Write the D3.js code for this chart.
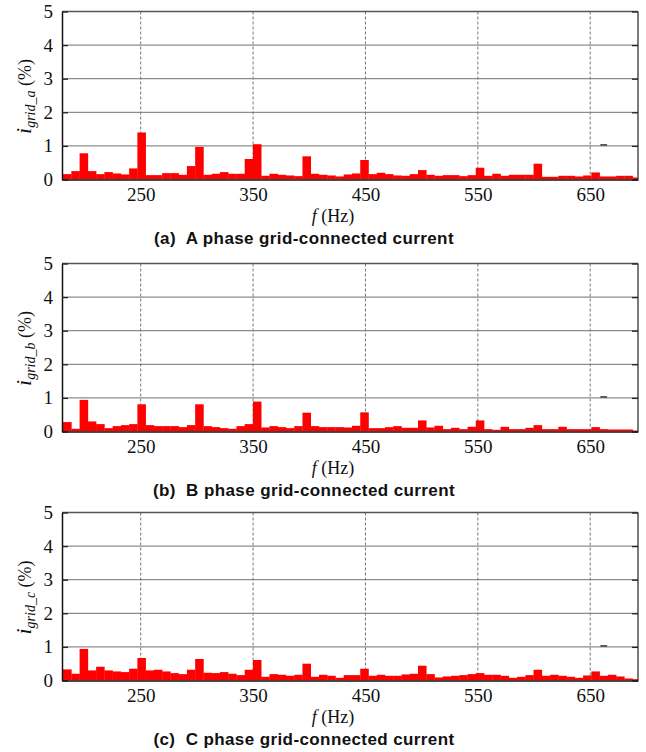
<!DOCTYPE html>
<html>
<head>
<meta charset="utf-8">
<style>
body { margin: 0; background: #fff; }
svg text { font-family: "Liberation Serif", serif; }
svg text.caption { font-family: "Liberation Sans", sans-serif; font-weight: bold; white-space: pre; }
</style>
</head>
<body>
<div id="chart"></div>
<script src="https://cdn.jsdelivr.net/npm/d3@7/dist/d3.min.js"></script>
<script>
// harmonic spectrum, % of fundamental, one bar per FFT bin
var phaseA = [0.16, 0.16, 0.25, 0.78, 0.25, 0.16, 0.22, 0.18, 0.15, 0.33,
              1.40, 0.13, 0.13, 0.19, 0.19, 0.14, 0.40, 0.97, 0.14, 0.17,
              0.22, 0.17, 0.17, 0.61, 1.05, 0.11, 0.17, 0.14, 0.12, 0.10,
              0.69, 0.17, 0.14, 0.12, 0.09, 0.15, 0.18, 0.58, 0.16, 0.20,
              0.16, 0.12, 0.11, 0.16, 0.28, 0.14, 0.11, 0.13, 0.13, 0.10,
              0.13, 0.35, 0.11, 0.17, 0.11, 0.14, 0.14, 0.14, 0.47, 0.08,
              0.08, 0.11, 0.11, 0.09, 0.12, 0.21, 0.09, 0.09, 0.11, 0.11, 0.06];
var phaseB = [0.28, 0.28, 0.08, 0.94, 0.30, 0.22, 0.10, 0.16, 0.19, 0.22,
              0.81, 0.19, 0.16, 0.16, 0.16, 0.13, 0.19, 0.81, 0.16, 0.13,
              0.10, 0.08, 0.16, 0.22, 0.89, 0.12, 0.16, 0.13, 0.10, 0.16,
              0.56, 0.16, 0.13, 0.13, 0.13, 0.12, 0.17, 0.57, 0.10, 0.10,
              0.13, 0.16, 0.11, 0.11, 0.33, 0.12, 0.17, 0.07, 0.11, 0.07,
              0.14, 0.33, 0.07, 0.05, 0.14, 0.07, 0.07, 0.11, 0.19, 0.07,
              0.07, 0.14, 0.07, 0.07, 0.07, 0.13, 0.07, 0.06, 0.06, 0.06, 0.03];
var phaseC = [0.33, 0.33, 0.20, 0.94, 0.30, 0.41, 0.30, 0.27, 0.25, 0.35,
              0.67, 0.30, 0.32, 0.27, 0.22, 0.19, 0.32, 0.64, 0.23, 0.22,
              0.25, 0.20, 0.16, 0.32, 0.61, 0.11, 0.19, 0.17, 0.14, 0.17,
              0.50, 0.11, 0.17, 0.14, 0.08, 0.16, 0.16, 0.35, 0.14, 0.17,
              0.14, 0.14, 0.18, 0.20, 0.44, 0.19, 0.09, 0.12, 0.14, 0.16,
              0.19, 0.22, 0.17, 0.17, 0.14, 0.08, 0.11, 0.16, 0.32, 0.14,
              0.17, 0.14, 0.11, 0.08, 0.15, 0.27, 0.14, 0.17, 0.12, 0.06, 0.04];

var binStart = 177.3,   // Hz, centre of first bin
    binHz = 7.344;      // Hz per bin
var xTicks = [250, 350, 450, 550, 650];
var yTicks = [0, 1, 2, 3, 4, 5];
var gridY = [1, 2, 3, 4];

var panels = [
  {values: phaseA, sub: "grid_a", caption: "(a)  A phase grid-connected current"},
  {values: phaseB, sub: "grid_b", caption: "(b)  B phase grid-connected current"},
  {values: phaseC, sub: "grid_c", caption: "(c)  C phase grid-connected current"}
];

var w = 646,
    h = 752,
    offsets = [0, 252, 501],
    serif = "'Liberation Serif', serif";

var svg = d3.select("#chart")
    .append("svg")
    .attr("width", w)
    .attr("height", h);

var x = d3.scaleLinear().domain([180, 692.5]).range([62, 638]);
var y = d3.scaleLinear().domain([0, 5]).range([179.5, 11.5]);

svg.append("clipPath")
    .attr("id", "plotclip")
  .append("rect")
    .attr("x", x.range()[0])
    .attr("y", y.range()[1])
    .attr("width", x.range()[1] - x.range()[0])
    .attr("height", y.range()[0] - y.range()[1]);

panels.forEach(function(p, pi) {
  var g = svg.append("g").attr("transform", "translate(0," + offsets[pi] + ")");

  // grid
  g.selectAll(".hgrid")
      .data(gridY)
    .enter().append("line")
      .attr("x1", x.range()[0]).attr("x2", x.range()[1])
      .attr("y1", y).attr("y2", y)
      .attr("stroke", "#8c8c8c")
      .attr("stroke-width", 1.3);

  g.selectAll(".vgrid")
      .data(xTicks)
    .enter().append("line")
      .attr("x1", x).attr("x2", x)
      .attr("y1", y(0)).attr("y2", y(5))
      .attr("stroke", "#777")
      .attr("stroke-width", 1)
      .attr("stroke-dasharray", "3,2");

  // bars
  g.append("g")
      .attr("clip-path", "url(#plotclip)")
    .selectAll("rect")
      .data(p.values)
    .enter().append("rect")
      .attr("x", function(d, i) { return x(binStart + (i - 0.5) * binHz); })
      .attr("width", function(d, i) { return x(binStart + (i + 0.5) * binHz) - x(binStart + (i - 0.5) * binHz) + 0.3; })
      .attr("y", function(d) { return y(d); })
      .attr("height", function(d) { return y(0) - y(d); })
      .attr("fill", "#ff0000");

  // small stray mark left from legend
  g.append("line")
      .attr("x1", x(659)).attr("x2", x(665))
      .attr("y1", y(1.03)).attr("y2", y(1.03))
      .attr("stroke", "#222")
      .attr("stroke-width", 1.3);

  // frame
  g.append("line")
      .attr("x1", x.range()[0]).attr("x2", x.range()[1])
      .attr("y1", y(5)).attr("y2", y(5))
      .attr("stroke", "#555").attr("stroke-width", 1.3);
  g.append("line")
      .attr("x1", x.range()[1]).attr("x2", x.range()[1])
      .attr("y1", y(5)).attr("y2", y(0))
      .attr("stroke", "#333").attr("stroke-width", 1.3);

  // right axis inner ticks
  g.append("g")
      .attr("transform", "translate(" + x.range()[1] + ",0)")
      .call(d3.axisRight(y).tickValues(yTicks).tickSize(-6).tickFormat(""))
      .call(function(a) {
        a.select(".domain").remove();
        a.selectAll("line").attr("stroke", "#222").attr("stroke-width", 1.3);
      });

  // left axis
  g.append("g")
      .attr("transform", "translate(" + x.range()[0] + ",0)")
      .call(d3.axisLeft(y).tickValues(yTicks).tickFormat(d3.format("d"))
              .tickSize(-6).tickPadding(9).tickSizeOuter(0))
      .call(function(a) {
        a.attr("font-family", serif).attr("font-size", 19);
        a.select(".domain").attr("stroke", "#111").attr("stroke-width", 1.5);
        a.selectAll("line").attr("stroke", "#222").attr("stroke-width", 1.3);
        a.selectAll("text").attr("fill", "#111");
      });

  // bottom axis
  g.append("g")
      .attr("transform", "translate(0," + y(0) + ")")
      .call(d3.axisBottom(x).tickValues(xTicks).tickFormat(d3.format("d"))
              .tickSize(0).tickPadding(8).tickSizeOuter(0))
      .call(function(a) {
        a.attr("font-family", serif).attr("font-size", 19);
        a.select(".domain").attr("stroke", "#111").attr("stroke-width", 1.5);
        a.selectAll("text").attr("fill", "#111");
      });

  // y label
  var yl = g.append("text")
      .attr("transform", "translate(31," + (y(2.5) + 1) + ")rotate(-90)")
      .attr("text-anchor", "middle")
      .attr("fill", "#111");
  yl.append("tspan").style("font-style", "italic").style("font-size", "22px").text("i");
  yl.append("tspan").style("font-style", "italic").style("font-size", "14px").attr("dy", 4).text(p.sub);
  yl.append("tspan").style("font-size", "18px").attr("dy", -4).text(" (%)");

  // x label
  var xl = g.append("text")
      .attr("x", 333)
      .attr("y", 222)
      .attr("text-anchor", "middle")
      .attr("fill", "#111")
      .style("font-size", "18px");
  xl.append("tspan").style("font-style", "italic").text("f");
  xl.append("tspan").text(" (Hz)");

  // caption
  g.append("text")
      .attr("class", "caption")
      .attr("x", 304)
      .attr("y", 243.5)
      .attr("text-anchor", "middle")
      .attr("fill", "#111")
      .style("font-size", "17px")
      .style("letter-spacing", "0.4px")
      .text(p.caption);
});
</script>
</body>
</html>
